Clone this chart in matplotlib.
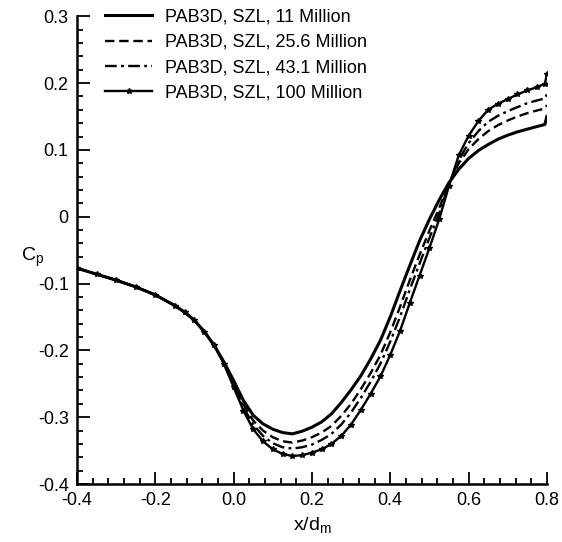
import matplotlib
matplotlib.use("Agg")
import matplotlib.pyplot as plt
from matplotlib.ticker import MultipleLocator

plt.rcParams['font.family'] = ['Liberation Sans', 'DejaVu Sans']
plt.rcParams['mathtext.fontset'] = 'custom'
plt.rcParams['mathtext.rm'] = 'Liberation Sans'
plt.rcParams['mathtext.it'] = 'Liberation Sans'

# x/d_m stations
x = [-0.40, -0.35, -0.30, -0.25, -0.20, -0.15, -0.125, -0.10, -0.075, -0.05, -0.025, 0.00,
     0.025, 0.05, 0.075, 0.10, 0.125, 0.15, 0.175, 0.20, 0.225, 0.25,
     0.275, 0.30, 0.325, 0.35, 0.375, 0.40, 0.425, 0.45, 0.475, 0.50,
     0.525, 0.55, 0.575, 0.60, 0.625, 0.65, 0.675, 0.70, 0.725, 0.75,
     0.775, 0.795, 0.80]

# Cp, PAB3D SZL, 11 million
cp_11 = [-0.077, -0.086, -0.095, -0.105, -0.117, -0.133, -0.143, -0.155, -0.172, -0.192, -0.217, -0.245,
         -0.275, -0.297, -0.310, -0.318, -0.323, -0.325, -0.321, -0.315, -0.307, -0.295,
         -0.278, -0.259, -0.238, -0.213, -0.185, -0.150, -0.111, -0.073, -0.036, -0.004,
         0.025, 0.051, 0.071, 0.087, 0.099, 0.108, 0.116, 0.122, 0.127, 0.131,
         0.135, 0.138, 0.150]

# 25.6 million
cp_25 = [-0.077, -0.086, -0.095, -0.105, -0.117, -0.133, -0.143, -0.155, -0.172, -0.192, -0.218, -0.249,
         -0.281, -0.305, -0.320, -0.330, -0.336, -0.338, -0.335, -0.330, -0.323, -0.313,
         -0.298, -0.280, -0.258, -0.234, -0.207, -0.173, -0.135, -0.095, -0.057, -0.021,
         0.013, 0.049, 0.080, 0.101, 0.116, 0.128, 0.137, 0.144, 0.150, 0.155,
         0.159, 0.162, 0.167]

# 43.1 million
cp_43 = [-0.077, -0.086, -0.095, -0.105, -0.117, -0.133, -0.143, -0.155, -0.172, -0.192, -0.219, -0.252,
         -0.285, -0.311, -0.328, -0.339, -0.345, -0.347, -0.345, -0.341, -0.334, -0.325,
         -0.311, -0.293, -0.271, -0.247, -0.220, -0.187, -0.150, -0.109, -0.070, -0.032,
         0.005, 0.048, 0.085, 0.110, 0.128, 0.142, 0.151, 0.158, 0.164, 0.170,
         0.174, 0.177, 0.183]

# 100 million
cp_100 = [-0.077, -0.086, -0.095, -0.105, -0.117, -0.133, -0.143, -0.155, -0.172, -0.192, -0.220, -0.255,
          -0.290, -0.318, -0.336, -0.348, -0.355, -0.358, -0.357, -0.353, -0.348, -0.340,
          -0.328, -0.311, -0.289, -0.265, -0.239, -0.207, -0.171, -0.129, -0.088, -0.047,
          -0.004, 0.046, 0.092, 0.121, 0.143, 0.160, 0.169, 0.176, 0.183, 0.189,
          0.194, 0.199, 0.213]

labels = ["PAB3D, SZL, 11 Million", "PAB3D, SZL, 25.6 Million",
          "PAB3D, SZL, 43.1 Million", "PAB3D, SZL, 100 Million"]

xticks = [-0.4, -0.2, 0.0, 0.2, 0.4, 0.6, 0.8]
xticklabels = ["-0.4", "-0.2", "0.0", "0.2", "0.4", "0.6", "0.8"]
yticks = [0.3, 0.2, 0.1, 0.0, -0.1, -0.2, -0.3, -0.4]
yticklabels = ["0.3", "0.2", "0.1", "0", "-0.1", "-0.2", "-0.3", "-0.4"]

fig = plt.figure(figsize=(5.62, 5.42), dpi=100)
ax = fig.add_axes([0.137, 0.107, 0.836, 0.863])

ax.plot(x, cp_11, color='black', lw=2.2, ls='-', label=labels[0])
ax.plot(x, cp_25, color='black', lw=1.7, ls=(0, (4, 2)), label=labels[1])
ax.plot(x, cp_43, color='black', lw=1.7, ls=(0, (5, 1.8, 1.2, 1.8)), label=labels[2])
ax.plot(x, cp_100, color='black', lw=1.7, ls='-', marker='*', ms=4, label=labels[3])

ax.set_xlim(-0.4, 0.8)
ax.set_ylim(-0.4, 0.3)
ax.set_xticks(xticks)
ax.set_xticklabels(xticklabels)
ax.set_yticks(yticks)
ax.set_yticklabels(yticklabels)
ax.xaxis.set_minor_locator(MultipleLocator(0.04))
ax.yaxis.set_minor_locator(MultipleLocator(0.02))
ax.tick_params(which='both', direction='in', top=False, right=False,
               labelsize=13, width=1.3, pad=6)
ax.tick_params(which='major', length=9)
ax.tick_params(which='minor', length=4.5)
ax.spines['top'].set_visible(False)
ax.spines['right'].set_visible(False)
ax.spines['left'].set_linewidth(1.8)
ax.spines['bottom'].set_linewidth(1.8)

ax.set_xlabel(r"x/d$_\mathregular{m}$", fontsize=14, labelpad=4)
ax.set_ylabel(r"C$_\mathregular{p}$", fontsize=14, rotation=0)
ax.yaxis.set_label_coords(-0.095, 0.46)

ax.legend(loc='upper left', bbox_to_anchor=(0.06, 1.016), frameon=False,
          fontsize=13, handlelength=2.6, handletextpad=0.7, labelspacing=0.45,
          borderpad=0, borderaxespad=0)

fig.savefig("out.png", dpi=100)
